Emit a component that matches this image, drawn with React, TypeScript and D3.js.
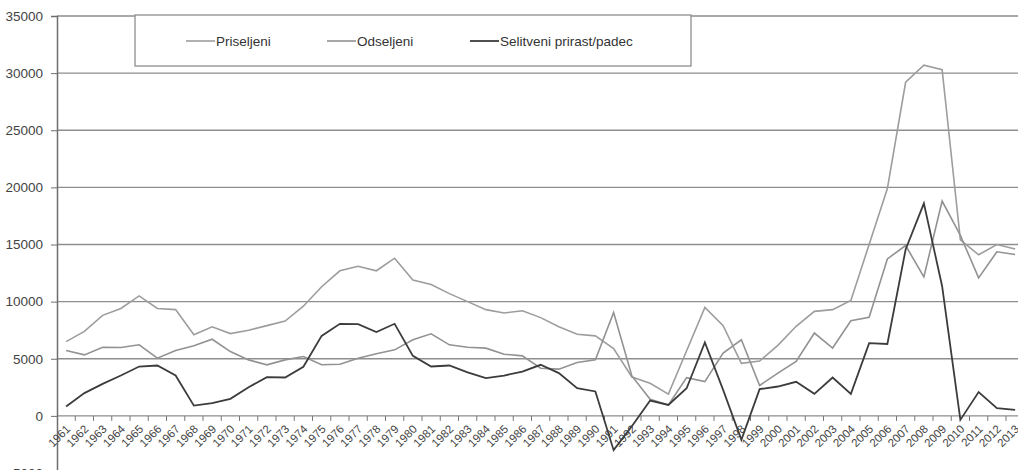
import * as d3 from 'd3';
import React, {useRef, useEffect} from 'react';

const years = ['1961','1962','1963','1964','1965','1966','1967','1968','1969','1970','1971','1972','1973','1974','1975','1976','1977','1978','1979','1980','1981','1982','1983','1984','1985','1986','1987','1988','1989','1990','1991','1992','1993','1994','1995','1996','1997','1998','1999','2000','2001','2002','2003','2004','2005','2006','2007','2008','2009','2010','2011','2012','2013'];

const priseljeni = [6500,7400,8800,9400,10500,9400,9300,7100,7800,7200,7500,7900,8300,9600,11300,12700,13100,12700,13800,11900,11500,10700,10000,9300,9000,9200,8600,7800,7150,7000,5900,3400,2860,1900,5700,9500,7900,4600,4800,6170,7840,9150,9300,10100,15000,19900,29200,30700,30300,15400,14100,15000,14600];

const odseljeni = [5730,5340,6010,5980,6220,5050,5730,6130,6710,5630,4900,4470,4900,5200,4470,4520,5050,5430,5780,6660,7180,6220,6010,5930,5400,5250,4170,4090,4680,4900,9050,3500,1450,950,3350,3000,5490,6660,2660,3740,4770,7250,5940,8330,8630,13740,14910,12160,18800,15800,12080,14360,14120];

const prirast = [820,1990,2800,3530,4320,4410,3530,900,1110,1490,2510,3390,3360,4300,7000,8060,8030,7330,8060,5250,4320,4410,3800,3300,3530,3880,4470,3740,2430,2140,-3000,-900,1340,960,2420,6420,2280,-2100,2340,2570,2980,1930,3360,1930,6370,6290,14560,18600,11350,-350,2080,670,530];

const yTicks = [-5000,0,5000,10000,15000,20000,25000,30000,35000];

const seriesNames = ['Priseljeni','Odseljeni','Selitveni prirast/padec'];

function App(){
    const ref = useRef(null);
    const width = 1018, height = 470;

    useEffect(() => {
        const svg = d3.select(ref.current);
        svg.selectAll('*').remove();

        const x = d3.scaleBand()
            .domain(years)
            .range([57, 57 + years.length * 18.25])
            .padding(0);
        const y = d3.scaleLinear()
            .domain([-5000, 35000])
            .range([473, 16]);
        const cx = d => x(d) + x.bandwidth() / 2;

        // grid lines
        svg.append('g')
            .selectAll('line')
            .data(yTicks)
            .enter()
            .append('line')
            .attr('x1', 57).attr('x2', width)
            .attr('y1', d => y(d)).attr('y2', d => y(d))
            .attr('stroke', '#8e8e8e')
            .attr('stroke-width', 1.3);

        // y axis
        const yAxis = svg.append('g')
            .attr('transform', 'translate(57,0)')
            .call(d3.axisLeft(y).tickValues(yTicks).tickSize(6).tickPadding(8).tickFormat(d3.format('d')));
        yAxis.select('.domain').attr('stroke', '#6e6e6e').attr('stroke-width', 1.5);
        yAxis.selectAll('.tick line').attr('stroke', '#6e6e6e');
        yAxis.selectAll('text')
            .attr('font-family', 'Liberation Sans, Arial, sans-serif')
            .attr('font-size', 13.5)
            .attr('fill', '#444');

        // x axis ticks at band edges
        svg.append('g')
            .selectAll('line')
            .data(years)
            .enter()
            .append('line')
            .attr('x1', d => x(d) + x.bandwidth()).attr('x2', d => x(d) + x.bandwidth())
            .attr('y1', y(0)).attr('y2', y(0) + 5)
            .attr('stroke', '#777');

        svg.append('g')
            .selectAll('text')
            .data(years)
            .enter()
            .append('text')
            .attr('transform', d => `translate(${cx(d) - 1},${y(0) + 8}) rotate(-45)`)
            .attr('text-anchor', 'end')
            .attr('dy', '0.72em')
            .attr('font-family', 'Liberation Sans, Arial, sans-serif')
            .attr('font-size', 11.5)
            .attr('fill', '#444')
            .text(d => d);

        // lines
        const series = [
            {values: priseljeni, color: '#9d9d9d', w: 1.6},
            {values: odseljeni, color: '#929292', w: 1.6},
            {values: prirast, color: '#3c3c3c', w: 1.8},
        ];
        const line = d3.line()
            .x((d, i) => cx(years[i]))
            .y(d => y(d));
        svg.append('g')
            .selectAll('path')
            .data(series)
            .enter()
            .append('path')
            .attr('d', s => line(s.values))
            .attr('fill', 'none')
            .attr('stroke', s => s.color)
            .attr('stroke-width', s => s.w)
            .attr('stroke-linejoin', 'miter');

        // legend
        const lg = svg.append('g');
        lg.append('rect')
            .attr('x', 135).attr('y', 15)
            .attr('width', 556).attr('height', 51)
            .attr('fill', 'white')
            .attr('stroke', '#8e8e8e')
            .attr('stroke-width', 1.3);
        const legendX = [186, 327, 470];
        seriesNames.forEach((name, i) => {
            lg.append('line')
                .attr('x1', legendX[i]).attr('x2', legendX[i] + 29)
                .attr('y1', 41).attr('y2', 41)
                .attr('stroke', series[i].color)
                .attr('stroke-width', series[i].w);
            lg.append('text')
                .attr('x', legendX[i] + 30).attr('y', 46)
                .attr('font-family', 'Liberation Sans, Arial, sans-serif')
                .attr('font-size', 13.5)
                .attr('fill', '#333')
                .text(name);
        });
    }, []);

    return (
        <div className="chart" style={{position: 'absolute', left: 0, top: 0}}>
            <svg ref={ref} width={width} height={height} style={{display: 'block', background: 'white'}}>
            </svg>
        </div>
    );
}

export default App;
